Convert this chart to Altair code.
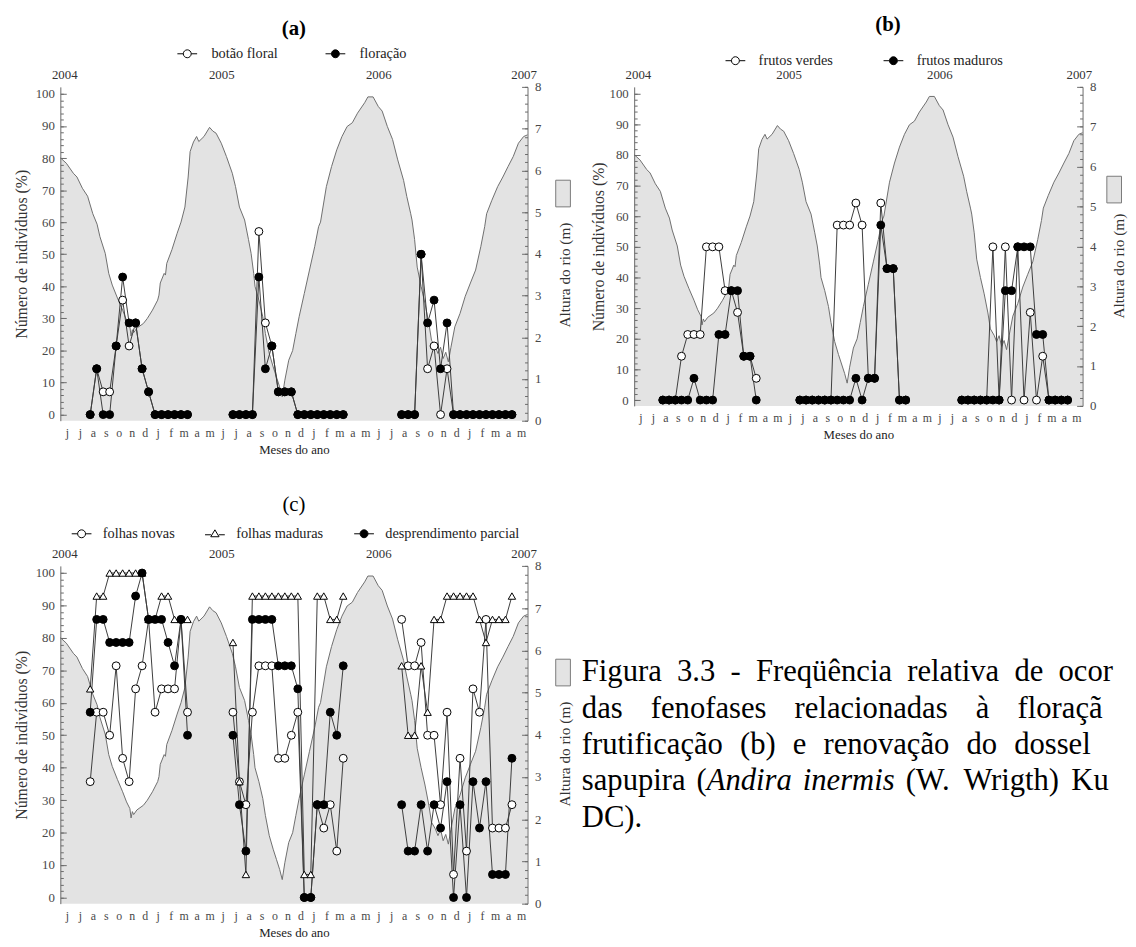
import altair as alt
import pandas as pd

FONT = "Liberation Serif"
AREA_FILL = "#e3e3e3"
RIVER_STROKE = "#6e6e6e"
SERIES_STROKE = "#3c3c3c"
TICK_GRAY = "#6a6a6a"
LABEL_GRAY = "#484848"

# ---------------- axis labels ----------------
MONTH_LETTERS = ["j", "j", "a", "s", "o", "n", "d", "j", "f", "m", "a", "m"] * 3
MONTH_POS = [k + 0.5 for k in range(36)]
YEAR_LABELS = ["2004", "2005", "2006", "2007"]
YEAR_POS = [0.3, 12.4, 24.5, 35.7]

# ---------------- observation dates (months since 1 Jun 2004) ----------------
OBS_T1 = [2.3, 2.8, 3.3, 3.8, 4.3, 4.8, 5.3, 5.8, 6.3, 6.8, 7.3, 7.8, 8.3, 8.8, 9.3, 9.8]
OBS_T2 = [13.3, 13.8, 14.3, 14.8, 15.3, 15.8, 16.3, 16.8, 17.3, 17.8, 18.3, 18.8,
          19.3, 19.8, 20.3, 20.8, 21.3, 21.8]
OBS_T3 = [26.3, 26.8, 27.3, 27.8, 28.3, 28.8, 29.3, 29.8, 30.3, 30.8, 31.3, 31.8,
          32.3, 32.8, 33.3, 33.8, 34.3, 34.8]
OBS = [OBS_T1, OBS_T2, OBS_T3]

# ---------------- river level (m) ----------------
RIVER_T = [0, 0.46, 1.0, 1.28, 1.7, 2.1, 2.5, 2.83, 3.05, 3.46, 3.73, 4.0, 4.4, 4.8, 5.1,
           5.36, 5.45, 5.55, 5.65, 5.9, 6.4, 6.7, 7.1, 7.5, 7.6, 7.7, 8.0, 8.1, 8.2, 8.6,
           9.0, 9.3, 9.6, 9.85, 10.0, 10.26, 10.5, 10.67, 11.07, 11.5, 11.75, 12.0, 12.4,
           12.8, 13.25, 13.5, 13.8, 14.2, 14.5, 14.7, 14.9, 15.0, 15.3, 15.6, 15.8, 16.1,
           16.4, 16.65, 16.9, 17.1, 17.3, 17.6, 17.9, 18.15, 18.4, 18.8, 19.2, 19.6, 19.9,
           20.05, 20.5, 20.9, 21.3, 21.7, 22.1, 22.5, 22.9, 23.45, 23.7, 24.1, 24.5, 24.8,
           25.2, 25.6, 26.0, 26.45, 26.7, 27.0, 27.1, 27.3, 27.5, 27.8, 28.1, 28.4, 28.6,
           28.9, 29.1, 29.3, 29.5, 29.7, 29.9, 30.1, 30.4, 30.8, 31.2, 31.6, 32.0, 32.4,
           32.7, 32.85, 33.25, 33.7, 34.1, 34.5, 34.9, 35.3, 35.7, 36.0]
RIVER_M = [6.30, 6.17, 5.93, 5.84, 5.57, 5.38, 4.96, 4.71, 4.41, 4.01, 3.53, 3.25, 2.94, 2.65,
           2.41, 2.25, 2.03, 2.18, 2.11, 2.22, 2.33, 2.45, 2.65, 2.89, 3.01, 3.30, 3.53, 3.49,
           3.77, 4.10, 4.49, 4.76, 5.12, 5.84, 6.45, 6.68, 6.81, 6.69, 6.81, 7.03, 6.94, 6.89,
           6.65, 6.33, 5.93, 5.61, 5.12, 4.81, 4.34, 4.01, 3.53, 3.22, 2.89, 2.49, 2.09, 1.61,
           1.29, 1.05, 0.81, 0.57, 0.97, 1.45, 1.68, 2.09, 2.49, 3.05, 3.61, 4.17, 4.65, 4.76,
           5.61, 6.09, 6.49, 6.81, 7.05, 7.14, 7.37, 7.62, 7.76, 7.76, 7.53, 7.42, 7.05, 6.74,
           6.25, 5.76, 5.37, 4.96, 4.81, 4.34, 3.68, 3.22, 2.81, 2.33, 1.93, 1.77, 1.61, 1.76,
           1.49, 1.64, 1.41, 1.76, 2.25, 2.57, 2.98, 3.30, 3.61, 4.17, 4.65, 4.96, 5.28, 5.61,
           5.84, 6.09, 6.33, 6.65, 6.81, 6.85]

# ---------------- (a) floração ----------------
A_BOTAO = [
    [0, 14.3, 7.1, 7.1, 21.4, 35.7, 21.4, 28.6, 14.3, 7.1, 0, 0, 0, 0, 0, 0],
    [0, 0, 0, 0, 57.1, 28.6, 21.4, 7.1, 7.1, 7.1, 0, 0, 0, 0, 0, 0, 0, 0],
    [0, 0, 0, 50, 14.3, 21.4, 0, 14.3, 0, 0, 0, 0, 0, 0, 0, 0, 0, 0],
]
A_FLORACAO = [
    [0, 14.3, 0, 0, 21.4, 42.9, 28.6, 28.6, 14.3, 7.1, 0, 0, 0, 0, 0, 0],
    [0, 0, 0, 0, 42.9, 14.3, 21.4, 7.1, 7.1, 7.1, 0, 0, 0, 0, 0, 0, 0, 0],
    [0, 0, 0, 50, 28.6, 35.7, 14.3, 28.6, 0, 0, 0, 0, 0, 0, 0, 0, 0, 0],
]

# ---------------- (b) frutificação ----------------
B_VERDES = [
    [0, 0, 0, 14.3, 21.4, 21.4, 21.4, 50, 50, 50, 35.7, 35.7, 28.6, 14.3, 14.3, 7.1],
    [0, 0, 0, 0, 0, 0, 57.1, 57.1, 57.1, 64.3, 57.1, 7.1, 7.1, 64.3, 42.9, 42.9, 0, 0],
    [0, 0, 0, 0, 0, 50, 0, 50, 0, 50, 0, 28.6, 0, 14.3, 0, 0, 0, 0],
]
B_MADUROS = [
    [0, 0, 0, 0, 0, 7.1, 0, 0, 0, 21.4, 21.4, 35.7, 35.7, 14.3, 14.3, 0],
    [0, 0, 0, 0, 0, 0, 0, 0, 0, 7.1, 0, 7.1, 7.1, 57.1, 42.9, 42.9, 0, 0],
    [0, 0, 0, 0, 0, 0, 0, 35.7, 35.7, 50, 50, 50, 21.4, 21.4, 0, 0, 0, 0],
]

# ---------------- (c) renovação do dossel ----------------
C_NOVAS = [
    [35.7, 57.1, 57.1, 50, 71.4, 42.9, 35.7, 64.3, 71.4, 85.7, 57.1, 64.3, 64.3, 64.3, 85.7, 57.1],
    [57.1, 35.7, 28.6, 57.1, 71.4, 71.4, 71.4, 42.9, 42.9, 50, 57.1, 0, 0, 28.6, 21.4, 28.6, 14.3, 42.9],
    [85.7, 71.4, 71.4, 78.6, 50, 50, 28.6, 57.1, 7.1, 42.9, 14.3, 64.3, 57.1, 85.7, 21.4, 21.4, 21.4, 28.6],
]
C_MADURAS = [
    [64.3, 92.9, 92.9, 100, 100, 100, 100, 100, 100, 85.7, 85.7, 92.9, 92.9, 85.7, 85.7, 85.7],
    [78.6, 35.7, 7.1, 92.9, 92.9, 92.9, 92.9, 92.9, 92.9, 92.9, 92.9, 7.1, 7.1, 92.9, 92.9, 85.7, 85.7, 92.9],
    [71.4, 50, 50, 71.4, 57.1, 85.7, 85.7, 92.9, 92.9, 92.9, 92.9, 92.9, 85.7, 78.6, 85.7, 85.7, 85.7, 92.9],
]
C_DESPREND = [
    [57.1, 85.7, 85.7, 78.6, 78.6, 78.6, 78.6, 92.9, 100, 85.7, 85.7, 85.7, 78.6, 71.4, 85.7, 50],
    [50, 28.6, 14.3, 85.7, 85.7, 85.7, 85.7, 71.4, 71.4, 71.4, 64.3, 0, 0, 28.6, 28.6, 57.1, 50, 71.4],
    [28.6, 14.3, 14.3, 28.6, 14.3, 28.6, 21.4, 35.7, 0, 28.6, 0, 35.7, 21.4, 35.7, 7.1, 7.1, 7.1, 42.9],
]

# ---------------- caption ----------------
CAPTION = [
    "Figura 3.3 - Freqüência relativa de ocorrência",
    "das fenofases relacionadas à floração (a),",
    "frutificação (b) e renovação do dossel (c) da",
    "sapupira (Andira inermis (W. Wrigth) Kunth ex",
    "DC).",
]
ITALIC_WORDS = {"Andira", "inermis"}

# ---------------- legend symbols ----------------
SYM_CIRCLE = "M-1,0L-0.4,0M0.4,0L1,0M-0.4,0A0.4,0.4,0,1,1,0.4,0A0.4,0.4,0,1,1,-0.4,0Z"
SYM_TRI = "M-1,0.1L-0.4,0.1M0.4,0.1L1,0.1M0,-0.4L0.42,0.3L-0.42,0.3Z"
SYM_BOX = "M-0.55,-1L0.55,-1L0.55,1L-0.55,1Z"

MONTH_EXPR = "[" + ",".join("'" + m + "'" for m in MONTH_LETTERS) + "][floor(datum.value)]"
YEAR_EXPR = "[" + ",".join("'" + y + "'" for y in YEAR_LABELS) + "][round(datum.value / 12)]"
PCT_MINOR = list(range(0, 101, 2))
M_MINOR = [round(i * 0.2, 1) for i in range(41)]

INDEP = dict(color="independent", fill="independent", shape="independent", stroke="independent")


def make_panel(specs, W, H, title, bold, tdx, toff, legx, legy, colpad, loff,
               rtitle_y, rtp, box_x, box_y, fs=13, fs_axt=16, fs_leg=14.5, ltp=6):
    rows = []
    for s in specs:
        for seg, (ts, vs) in enumerate(zip(OBS, s["values"])):
            for t, v in zip(ts, vs):
                rows.append({"t": t, "v": v, "serie": s["name"], "grp": s["name"] + str(seg)})
    df = pd.DataFrame(rows)
    names = [s["name"] for s in specs]
    river = pd.DataFrame({"t": RIVER_T, "m": RIVER_M, "k": ["rio"] * len(RIVER_T)})

    xs = alt.Scale(domain=[0, 36], nice=False, zero=False)
    ys = alt.Scale(domain=[-1.9, 102.2], nice=False, zero=False)
    ms = alt.Scale(domain=[0, 8], nice=False, zero=False)
    x_none = alt.X("t:Q", scale=xs, axis=None)

    area = alt.Chart(river).mark_area(opacity=1, strokeWidth=0).encode(
        x=alt.X("t:Q", scale=xs, title=None,
                axis=alt.Axis(orient="top", values=YEAR_POS, labelExpr=YEAR_EXPR, ticks=False,
                              domain=False, grid=False, labelFlush=False, labelOverlap=False,
                              labelPadding=5, labelFont=FONT, labelFontSize=fs, labelColor="#333333")),
        y=alt.Y("m:Q", scale=ms, title="Altura do rio (m)",
                axis=alt.Axis(orient="right", values=list(range(9)), ticks=False, domain=False,
                              grid=False, labelPadding=7, labelFont=FONT, labelFontSize=fs,
                              labelColor=LABEL_GRAY, titleFont=FONT, titleFontSize=fs_axt - 0.5,
                              titleFontWeight="normal", titleColor="#333333", titleAngle=270,
                              titleBaseline="top", titleY=rtitle_y, titlePadding=rtp)),
        color=alt.Color("k:N", scale=alt.Scale(domain=["rio"], range=[AREA_FILL]),
                        legend=alt.Legend(orient="none", legendX=box_x, legendY=box_y, title=None,
                                          symbolType=SYM_BOX, symbolSize=729,
                                          symbolStrokeColor="#7a7a7a", symbolStrokeWidth=1,
                                          labelExpr="''", labelOffset=0, labelLimit=1, padding=0)),
    )
    rline = alt.Chart(river).mark_line(color=RIVER_STROKE, strokeWidth=1).encode(
        x=x_none,
        y=alt.Y("m:Q", scale=ms, axis=alt.Axis(orient="left", offset=-W, values=M_MINOR, tickSize=3,
                                               tickColor=TICK_GRAY, labels=False, domain=False,
                                               grid=False, title=None, zindex=1)),
    )
    rmaj = alt.Chart(river).mark_line(strokeOpacity=0).encode(
        x=x_none,
        y=alt.Y("m:Q", scale=ms, axis=alt.Axis(orient="left", offset=-W, values=list(range(9)),
                                               tickSize=6, tickColor=TICK_GRAY, labels=False,
                                               domain=True, domainColor=TICK_GRAY, grid=False,
                                               title=None, zindex=1)),
    )
    lines = alt.Chart(df).mark_line(color=SERIES_STROKE, strokeWidth=1).encode(
        x=alt.X("t:Q", scale=xs, title="Meses do ano",
                axis=alt.Axis(orient="bottom", values=MONTH_POS, labelExpr=MONTH_EXPR, ticks=False,
                              domain=False, grid=False, labelFlush=False, labelOverlap=False,
                              labelPadding=7, labelFont=FONT, labelFontSize=fs - 1,
                              labelColor=LABEL_GRAY, titleFont=FONT, titleFontSize=fs,
                              titleFontWeight="normal", titleColor="#222222", titlePadding=5)),
        y=alt.Y("v:Q", scale=ys, title="Número de indivíduos (%)",
                axis=alt.Axis(orient="left", values=list(range(0, 101, 10)), ticks=False,
                              domain=False, grid=False, labelPadding=6, labelFont=FONT,
                              labelFontSize=fs, labelColor=LABEL_GRAY, titleFont=FONT,
                              titleFontSize=fs_axt, titleFontWeight="normal",
                              titleColor="#333333", titlePadding=ltp)),
        detail="grp:N",
    )
    pts = []
    for i, s in enumerate(specs):
        if i == 0:
            yax = alt.Axis(orient="right", offset=-W, values=PCT_MINOR, tickSize=3,
                           tickColor=TICK_GRAY, labels=False, domain=True, domainColor=TICK_GRAY,
                           grid=False, title=None, zindex=1)
        elif i == 1:
            yax = alt.Axis(orient="right", offset=-W, values=list(range(0, 101, 10)), tickSize=6,
                           tickColor=TICK_GRAY, labels=False, domain=False, grid=False,
                           title=None, zindex=1)
        else:
            yax = None
        mk = alt.Chart(df).transform_filter(alt.datum.serie == s["name"]).mark_point(
            shape=s["shape"], filled=True, fill=s["fill"], stroke="black", strokeWidth=1,
            size=s["size"], opacity=1)
        pts.append(mk.encode(x=x_none, y=alt.Y("v:Q", scale=ys, axis=yax)))

    leg_def = alt.Legend(orient="none", legendX=legx, legendY=legy, direction="horizontal",
                         title=None, labelFont=FONT, labelFontSize=fs_leg, labelColor="#222222",
                         symbolSize=400, symbolStrokeColor="black", symbolStrokeWidth=1,
                         labelOffset=loff, columnPadding=colpad, padding=0)
    leg = alt.Chart(df).transform_filter("datum.v < -50").mark_point(
        color="black", stroke="black", strokeWidth=1, opacity=1).encode(
        x=x_none,
        y=alt.Y("v:Q", scale=ys, axis=None),
        shape=alt.Shape("serie:N", scale=alt.Scale(domain=names, range=[s["sym"] for s in specs]),
                        legend=leg_def),
        fill=alt.Fill("serie:N", scale=alt.Scale(domain=names, range=[s["fill"] for s in specs]),
                      legend=leg_def),
        stroke=alt.Stroke("serie:N", scale=alt.Scale(domain=names, range=["black"] * len(names)),
                          legend=leg_def),
    )
    return alt.layer(area, rline, rmaj, lines, *pts, leg).resolve_scale(y="independent").properties(
        width=W, height=H,
        title=alt.TitleParams(title, font=FONT, fontSize=21, fontWeight="bold" if bold else "normal",
                              anchor="middle", frame="group", offset=toff, dx=tdx, color="black"),
    )


OPEN = dict(shape="circle", fill="white", sym=SYM_CIRCLE, size=64)
FULL = dict(shape="circle", fill="black", sym=SYM_CIRCLE, size=64)
TRI = dict(shape="triangle-up", fill="white", sym=SYM_TRI, size=56)

pa = make_panel([dict(name="botão floral", values=A_BOTAO, **OPEN),
                 dict(name="floração", values=A_FLORACAO, **FULL)],
                W=473, H=338, title="(a)", bold=True, tdx=0, toff=5,
                legx=118, legy=-44, colpad=45, loff=14, rtitle_y=190, rtp=17,
                box_x=495, box_y=94)
pb = make_panel([dict(name="frutos verdes", values=B_VERDES, **OPEN),
                 dict(name="frutos maduros", values=B_MADUROS, **FULL)],
                W=454, H=323, title="(b)", bold=True, tdx=30, toff=16,
                legx=92, legy=-37, colpad=48, loff=13, rtitle_y=181, rtp=16,
                box_x=472, box_y=90, ltp=3)
pc = make_panel([dict(name="folhas novas", values=C_NOVAS, **OPEN),
                 dict(name="folhas maduras", values=C_MADURAS, **TRI),
                 dict(name="desprendimento parcial", values=C_DESPREND, **FULL)],
                W=473, H=342, title="(c)", bold=False, tdx=0, toff=9,
                legx=11, legy=-43, colpad=28, loff=11, rtitle_y=190, rtp=17,
                box_x=495, box_y=94)

# ---------------- caption block (justified, Times metrics) ----------------
W_REG = {" ": 250, "(": 333, ")": 333, ",": 250, "-": 333, ".": 250, "3": 500,
         "A": 722, "C": 667, "D": 722, "F": 556, "K": 722, "W": 944,
         "a": 444, "b": 500, "c": 444, "d": 500, "e": 444, "f": 333, "g": 500, "h": 500,
         "i": 278, "l": 278, "m": 778, "n": 500, "o": 500, "p": 500, "q": 500, "r": 333,
         "s": 389, "t": 278, "u": 500, "v": 500, "x": 500,
         "à": 444, "ã": 444, "ç": 444, "ê": 444, "ü": 500}
W_ITA = {"A": 611, "a": 500, "d": 500, "e": 444, "i": 278, "m": 722, "n": 500, "r": 389, "s": 389}
CAP_FS = 31
CAP_COL = 19.79 * CAP_FS
TXT_W, TXT_H = 538, 342


def tw(s, italic):
    tab = W_ITA if italic else W_REG
    return sum(tab.get(ch, 500) for ch in s) / 1000.0 * CAP_FS


cap_rows = []
for r, line in enumerate(CAPTION):
    toks = line.split(" ")
    segs_all = []
    for tok in toks:
        core = tok.lstrip("(")
        pre = tok[: len(tok) - len(core)]
        if core in ITALIC_WORDS:
            segs = ([(pre, False)] if pre else []) + [(core, True)]
        else:
            segs = [(tok, False)]
        segs_all.append(segs)
    widths = [sum(tw(s, it) for s, it in segs) for segs in segs_all]
    if r < len(CAPTION) - 1 and len(toks) > 1:
        gap = (CAP_COL - sum(widths)) / (len(toks) - 1)
    else:
        gap = 0.25 * CAP_FS
    x = 0.0
    for segs, w in zip(segs_all, widths):
        xx = x
        for s, it in segs:
            kept = ""
            cx = xx
            for ch in s:
                cw = tw(ch, it)
                if cx + cw > TXT_W:
                    break
                kept += ch
                cx += cw
            if kept:
                cap_rows.append({"row": r, "x": xx, "s": kept, "it": int(it)})
            xx += tw(s, it)
        x += w + gap
cap_df = pd.DataFrame(cap_rows)

LINE_H = 36.8
FIRST_Y = 108
cap_base = alt.Chart(cap_df).encode(
    x=alt.X("x:Q", scale=alt.Scale(domain=[0, TXT_W], nice=False, zero=False), axis=None),
    y=alt.Y("row:Q", scale=alt.Scale(domain=[-FIRST_Y / LINE_H, (TXT_H - FIRST_Y) / LINE_H],
                                     nice=False, zero=False, reverse=True), axis=None),
    text="s:N",
)
cap_n = cap_base.transform_filter("datum.it == 0").mark_text(
    align="left", baseline="middle", font=FONT, fontSize=CAP_FS, color="black")
cap_i = cap_base.transform_filter("datum.it == 1").mark_text(
    align="left", baseline="middle", font=FONT, fontSize=CAP_FS, fontStyle="italic",
    color="black")
caption = alt.layer(cap_n, cap_i).properties(width=TXT_W, height=TXT_H)

top = alt.hconcat(pa, pb, spacing=108, bounds="flush").resolve_scale(**INDEP)
bottom = alt.hconcat(pc, caption, spacing=55, bounds="flush").resolve_scale(**INDEP)
chart = alt.vconcat(top, bottom, spacing=38).resolve_scale(**INDEP).properties(
    padding={"left": 5, "top": 0, "right": 0, "bottom": 0}
).configure_view(stroke=None)

chart.save("out.html", embed_options={"renderer": "svg", "actions": False})
